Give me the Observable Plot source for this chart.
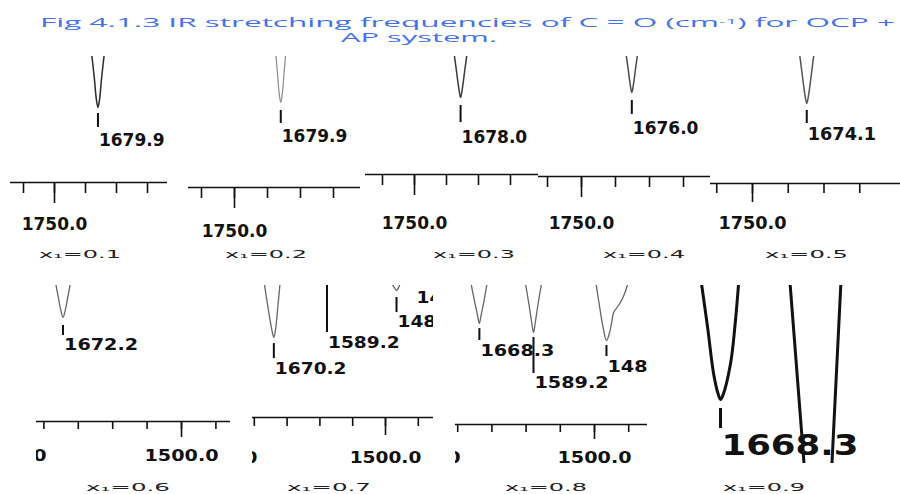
<!DOCTYPE html>
<html><head><meta charset="utf-8">
<script src="https://cdn.jsdelivr.net/npm/d3@7"></script>
<script src="https://cdn.jsdelivr.net/npm/@observablehq/plot@0.6"></script>
<style>
html,body{margin:0;padding:0;background:#fff;}
#fig{position:relative;width:900px;height:494px;overflow:hidden;background:#fff;}
.panel{position:absolute;}
.panel svg{display:block;overflow:hidden;}
.fit{position:absolute;white-space:nowrap;transform-origin:0 0;line-height:1;}
.title{font-family:"Open Sans";font-size:12px;color:#4472ee;}
.title sup{font-size:0.65em;vertical-align:0.45em;line-height:0;}
.cap{font-family:"DejaVu Sans";font-size:10px;color:#222;}
</style></head><body><div id="fig"></div>
<script>
// ---------- text ----------
const titleLine1 = 'Fig 4.1.3 IR stretching frequencies of C = O (cm<sup>-1</sup>) for OCP +';
const titleLine2 = 'AP system.';
const compositions = ["x₁=0.1","x₁=0.2","x₁=0.3","x₁=0.4","x₁=0.5","x₁=0.6","x₁=0.7","x₁=0.8","x₁=0.9"];

// ---------- axis ticks (cm⁻¹) ----------
const ticksTop = [1800, 1750, 1700, 1650, 1600];
const majorTop = [1750];
const ticksBottom = [1750, 1700, 1650, 1600, 1550, 1500, 1450];
const majorBottom = [1750, 1500];

// ---------- spectral troughs: [wavenumber cm⁻¹, transmittance %T] ----------
const trough01 = [[[1692,110],[1686,84],[1682.5,66],[1679.9,59.5],[1677.3,66],[1673.8,84],[1667.8,110]]];
const trough02 = [[[1688.8,110],[1685,88],[1682.3,72],[1679.9,64.9],[1677.5,72],[1674.8,88],[1671,110]]];
const trough03 = [[[1690,110],[1684.5,88],[1680.8,73],[1678,65.3],[1675.2,73],[1671.5,88],[1666,110]]];
const trough04 = [[[1686.5,110],[1681.5,90],[1678.5,77],[1676,70],[1673.5,77],[1670.5,90],[1665.5,110]]];
const trough05 = [[[1686,110],[1680.5,86],[1677,71],[1674.1,63],[1671.2,71],[1667.7,86],[1662.2,110]]];
const trough06 = [[[1684.5,106],[1679,91],[1675.3,81.5],[1672.2,76.5],[1669.1,81.5],[1665.4,91],[1659.9,106]]];
const trough07 = [
  [[1685.5,104],[1679,83],[1673.5,67],[1670.2,60.6],[1667.5,67],[1664.3,83],[1660.3,104]],
  [[1489.8,101],[1486,98],[1483.2,96.2],[1480.5,98],[1478,101]]
];
const trough08 = [
  [[1681.5,104],[1675.5,89],[1671,78.5],[1668.3,72.7],[1665.8,78.5],[1661.5,89],[1656.3,104]],
  [[1601.8,104],[1596,87],[1592,74],[1589.2,66.2],[1586.4,74],[1582.4,87],[1576.6,104]],
  [[1498.5,104],[1493,86],[1487.5,70],[1482.5,60.4],[1478,66],[1475,73],[1472,80.6],[1465,85.6],[1459,90.6],[1452,100],[1450,104]]
];
const trough09 = [
  [[1684,103],[1678.5,75],[1673.9,49.7],[1670.2,38],[1668.3,34.9],[1666.5,37],[1660.2,55.4],[1656.5,78],[1653.5,103]],
  [[1612.4,103],[1600.8,-3]],
  [[1578.5,-3],[1571.1,103]]
];
const troughs = [trough01, trough02, trough03, trough04, trough05, trough06, trough07, trough08, trough09];

// ---------- peak annotations: [panel, wavenumber, label, marker top %T, marker bottom %T, label baseline %T] ----------
const peakMarks = [
  [0, 1679.9, "1679.9", 54.8, 43.7, 28.6],
  [1, 1679.9, "1679.9", 58.8, 48.9, 34.4],
  [2, 1678.0, "1678.0", 58.5, 44.0, 27.1],
  [3, 1676.0, "1676.0", 63.3, 51.7, 35.8],
  [4, 1674.1, "1674.1", 57.5, 47.2, 33.9],
  [5, 1672.2, "1672.2", 70.6, 63.2, 52.9],
  [6, 1670.2, "1670.2", 56.0, 44.7, 32.6],
  [6, 1589.2, "1589.2", 100, 64.4, 52.3],
  [6, 1483.2, "148", 90.9, 79.5, 68.2],
  [6, 1454.3, "14", null, null, 87.1],
  [7, 1668.3, "1668.3", 69.0, 60.4, 49.6],
  [7, 1589.2, "1589.2", 62.6, 36.7, 26.6],
  [7, 1482.5, "148", 56.8, 48.9, 38.1],
  [8, 1668.3, "1668.3", 29.7, 18.3, 2.9]
];

// ---------- layout of the nine scanned panels (page pixels) ----------
const layout = [
  {l:10,  t:56,  r:167, b:240, axis:182, ref:1750, refX:54,  k:0.62,  minor:11, majorLen:21, base:229, fs:17, sx:1,    color:"#2a2a2a", lw:1.5, tw:2},
  {l:188, t:56,  r:360, b:242, axis:187, ref:1750, refX:234, k:0.66,  minor:11, majorLen:21, base:236, fs:17, sx:1,    color:"#8a8a8a", lw:1.2, tw:2},
  {l:365, t:56,  r:538, b:240, axis:174, ref:1750, refX:414, k:0.64,  minor:11, majorLen:21, base:228, fs:17, sx:1,    color:"#3a3a3a", lw:1.5, tw:2},
  {l:538, t:56,  r:710, b:240, axis:176, ref:1750, refX:581, k:0.68,  minor:11, majorLen:21, base:228, fs:17, sx:1,    color:"#4a4a4a", lw:1.5, tw:2},
  {l:710, t:56,  r:900, b:240, axis:183, ref:1750, refX:752, k:0.715, minor:10, majorLen:19, base:228, fs:17, sx:1.04, color:"#555555", lw:1.5, tw:2},
  {l:36,  t:285, r:230, b:468, axis:421, ref:1500, refX:181, k:0.688, minor:8,  majorLen:16, base:460, fs:15, sx:1.28, color:"#666666", lw:1.3, tw:2},
  {l:252, t:285, r:433, b:468, axis:417, ref:1500, refX:385, k:0.656, minor:9,  majorLen:18, base:462, fs:15, sx:1.24, color:"#666666", lw:1.3, tw:2},
  {l:455, t:285, r:647, b:468, axis:424, ref:1500, refX:594, k:0.684, minor:8,  majorLen:15, base:462, fs:15, sx:1.28, color:"#666666", lw:1.3, tw:2},
  {l:695, t:285, r:862, b:463, axis:460, ref:1668.3, refX:720, k:1.24, fs:27.5, sx:1.29, color:"#111111", lw:3, tw:3}
];
const axisTicks = [ticksTop, ticksTop, ticksTop, ticksTop, ticksTop, ticksBottom, ticksBottom, ticksBottom, null];
const axisMajor = [majorTop, majorTop, majorTop, majorTop, majorTop, majorBottom, majorBottom, majorBottom, null];

// caption positions: [left, baseline, width]
const capPos = [[39,258,82],[225,258,82],[433,258,82],[603,258,82],[765,258,83],[86,491,84],[287,491,84],[505,491,82],[723,491,82]];

const fig = document.getElementById("fig");

function place(html, cls, left, baseline, width) {
  const d = document.createElement("div");
  d.className = "fit " + cls;
  d.innerHTML = html;
  const probe = document.createElement("span");
  probe.style.cssText = "display:inline-block;width:0;height:0;vertical-align:baseline;";
  d.appendChild(probe);
  fig.appendChild(d);
  const natural = d.getBoundingClientRect().width;
  const off = probe.offsetTop;
  d.style.left = left + "px";
  d.style.top = (baseline - off) + "px";
  d.style.transform = "scaleX(" + (width / natural) + ")";
}

place(titleLine1, "title", 40, 27, 855);
place(titleLine2, "title", 341, 42, 156);

layout.forEach((L, i) => {
  const width = L.r - L.l, height = L.b - L.t;
  const a = L.refX - L.l;
  const peaks = peakMarks.filter(p => p[0] === i).map(p => ({w: p[1], label: p[2], t1: p[3], t2: p[4], ly: p[5]}));
  const pts = troughs[i].flatMap((seg, j) => seg.map(([w, T]) => ({id: j, w, T})));
  const marks = [];
  if (axisTicks[i]) {
    marks.push(Plot.ruleY([0], {stroke: "#111", strokeWidth: 1.6}));
    marks.push(Plot.axisX({ticks: axisTicks[i], anchor: "bottom", tickSize: L.minor, tickFormat: () => "", label: null, strokeWidth: 1.6}));
    marks.push(Plot.axisX({ticks: axisMajor[i], anchor: "bottom", tickSize: L.majorLen,
      tickPadding: L.base - L.axis - L.majorLen - 0.71 * L.fs,
      tickFormat: d => d.toFixed(1), label: null, fontSize: L.fs, fontWeight: "bold", strokeWidth: 1.6}));
  }
  marks.push(Plot.line(pts, {x: "w", y: "T", z: "id", stroke: L.color, strokeWidth: L.lw, curve: "catmull-rom"}));
  marks.push(Plot.ruleX(peaks.filter(p => p.t1 != null), {x: "w", y1: "t1", y2: "t2", stroke: "#111", strokeWidth: L.tw}));
  marks.push(Plot.text(peaks, {x: "w", y: "ly", text: "label", textAnchor: "start", lineAnchor: "bottom", dx: 1,
    fontSize: L.fs, fontWeight: "bold", fill: "#111"}));
  const svg = Plot.plot({
    width, height,
    marginTop: 0, marginLeft: 0, marginRight: 0, marginBottom: L.b - L.axis,
    x: {domain: [L.ref, L.ref - 100], range: [a, a + 100 * L.k], axis: null, label: null},
    y: {domain: [0, 100], range: [L.axis - L.t, 0], axis: null, label: null},
    style: {fontFamily: "DejaVu Sans", overflow: "hidden", background: "transparent", color: "#111"},
    marks
  });
  // minor ticks carry no labels: drop their empty text nodes
  svg.querySelectorAll("text").forEach(t => { if (t.textContent.trim() === "") t.remove(); });
  // the scanned figures have horizontally stretched digits
  if (L.sx !== 1) {
    svg.querySelectorAll("text").forEach(t => {
      const tr = t.getAttribute("transform") || "";
      const x = +t.getAttribute("x") || 0;
      t.setAttribute("transform", `${tr} translate(${x},0) scale(${L.sx},1) translate(${-x},0)`);
    });
  }
  const div = document.createElement("div");
  div.className = "panel";
  div.style.left = L.l + "px"; div.style.top = L.t + "px";
  div.style.width = width + "px"; div.style.height = height + "px";
  div.appendChild(svg);
  fig.appendChild(div);
});

compositions.forEach((c, i) => place(c, "cap", capPos[i][0], capPos[i][1], capPos[i][2]));
</script></body></html>
